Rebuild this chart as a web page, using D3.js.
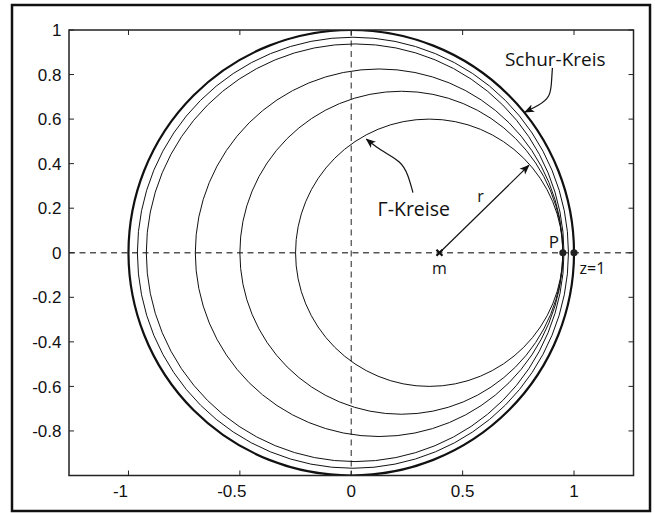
<!DOCTYPE html>
<html>
<head>
<meta charset="utf-8">
<script src="https://cdn.jsdelivr.net/npm/d3@7"></script>
<style>
  body { margin: 0; background: #fff; }
  svg { display: block; }
</style>
</head>
<body>
<svg width="655" height="513"></svg>
<script>
// Γ-circles: centre on the real axis and radius, innermost first
const circleCenters = [0.35, 0.225, 0.125, 0.0175, 0.0075]
const circleRadii = [0.60, 0.725, 0.825, 0.9375, 0.9675]
// Schur circle (unit circle)
const schurCenter = 0
const schurRadius = 1

const xTicks = [-1, -0.5, 0, 0.5, 1]
const xTickLabels = ['-1', '-0.5', '0', '0.5', '1']
const yTicks = [1, 0.8, 0.6, 0.4, 0.2, 0, -0.2, -0.4, -0.6, -0.8]
const yTickLabels = ['1', '0.8', '0.6', '0.4', '0.2', '0', '-0.2', '-0.4', '-0.6', '-0.8']

// marked points
const pointP = 0.95
const pointZ = 1
const pointM = 0.396

const svg = d3.select('svg')

const axLeft = 69, axRight = 633.5, axTop = 30, axBottom = 475.5

const x = d3.scaleLinear().domain([-1.267, 1.267]).range([axLeft, axRight])
const y = d3.scaleLinear().domain([-1, 1]).range([axBottom, axTop])

// outer frame
svg.append('rect')
  .attr('x', 12).attr('y', 5)
  .attr('width', 638).attr('height', 506)
  .attr('fill', 'none')
  .attr('stroke', '#111')
  .attr('stroke-width', 2.5)

const defs = svg.append('defs')
defs.append('marker')
  .attr('id', 'head')
  .attr('viewBox', '0 0 10 10')
  .attr('refX', 9).attr('refY', 5)
  .attr('markerWidth', 10).attr('markerHeight', 10)
  .attr('markerUnits', 'userSpaceOnUse')
  .attr('orient', 'auto')
  .append('path')
  .attr('d', 'M0,1 L10,5 L0,9 L2.5,5 Z')
  .attr('fill', '#111')

defs.append('clipPath').attr('id', 'clip')
  .append('rect')
  .attr('x', axLeft).attr('y', axTop)
  .attr('width', axRight - axLeft).attr('height', axBottom - axTop)

// dashed axes through origin
const plot = svg.append('g').attr('clip-path', 'url(#clip)')
plot.append('line')
  .attr('x1', axLeft).attr('x2', axRight)
  .attr('y1', y(0)).attr('y2', y(0))
  .attr('stroke', '#555').attr('stroke-width', 1.3)
  .attr('stroke-dasharray', '6,4.5')
plot.append('line')
  .attr('x1', x(0)).attr('x2', x(0))
  .attr('y1', axTop).attr('y2', axBottom)
  .attr('stroke', '#555').attr('stroke-width', 1.3)
  .attr('stroke-dasharray', '6,4.5')

// Γ-circles
plot.selectAll('ellipse.gamma')
  .data(circleCenters)
  .enter()
  .append('ellipse')
  .attr('class', 'gamma')
  .attr('cx', d => x(d))
  .attr('cy', y(0))
  .attr('rx', (d, i) => x(circleRadii[i]) - x(0))
  .attr('ry', (d, i) => y(0) - y(circleRadii[i]))
  .attr('fill', 'none')
  .attr('stroke', '#111')
  .attr('stroke-width', 1)

// Schur circle
plot.append('ellipse')
  .attr('cx', x(schurCenter)).attr('cy', y(0))
  .attr('rx', x(schurRadius) - x(0))
  .attr('ry', y(0) - y(schurRadius))
  .attr('fill', 'none')
  .attr('stroke', '#111')
  .attr('stroke-width', 2.2)

// axes box
svg.append('rect')
  .attr('x', axLeft).attr('y', axTop)
  .attr('width', axRight - axLeft).attr('height', axBottom - axTop)
  .attr('fill', 'none')
  .attr('stroke', '#222')
  .attr('stroke-width', 1.5)

// inward ticks on all four sides
const tickLen = 5
const tk = svg.append('g').attr('stroke', '#222').attr('stroke-width', 1)
xTicks.forEach(t => {
  tk.append('line').attr('x1', x(t)).attr('x2', x(t)).attr('y1', axBottom).attr('y2', axBottom - tickLen)
  tk.append('line').attr('x1', x(t)).attr('x2', x(t)).attr('y1', axTop).attr('y2', axTop + tickLen)
})
yTicks.forEach(t => {
  tk.append('line').attr('x1', axLeft).attr('x2', axLeft + tickLen).attr('y1', y(t)).attr('y2', y(t))
  tk.append('line').attr('x1', axRight).attr('x2', axRight - tickLen).attr('y1', y(t)).attr('y2', y(t))
})

const labelFont = '"Liberation Sans", Arial, sans-serif'
svg.append('g')
  .selectAll('text')
  .data(xTicks)
  .enter()
  .append('text')
  .attr('x', d => x(d) + (d < 0 ? -8 : 0))
  .attr('y', 497)
  .attr('text-anchor', 'middle')
  .attr('font-family', labelFont)
  .attr('font-size', 17)
  .attr('fill', '#111')
  .text((d, i) => xTickLabels[i])

svg.append('g')
  .selectAll('text')
  .data(yTicks)
  .enter()
  .append('text')
  .attr('x', 61.5)
  .attr('y', d => y(d))
  .attr('dy', '0.36em')
  .attr('text-anchor', 'end')
  .attr('font-family', labelFont)
  .attr('font-size', 17)
  .attr('fill', '#111')
  .text((d, i) => yTickLabels[i])

// annotations
const annFont = '"Open Sans", "Noto Sans", sans-serif'
const ann = svg.append('g').attr('font-family', annFont).attr('fill', '#111')

ann.append('text').attr('x', x(0.69)).attr('y', y(0.84))
  .attr('font-size', 19).text('Schur-Kreis')
ann.append('text').attr('x', x(0.118)).attr('y', y(0.166))
  .attr('font-size', 19.5).text('\u0393-Kreise')
ann.append('text').attr('x', x(0.58)).attr('y', y(0.227))
  .attr('text-anchor', 'middle').attr('font-size', 16).text('r')
ann.append('text').attr('x', x(0.91)).attr('y', y(0.02))
  .attr('text-anchor', 'middle').attr('font-size', 17).text('P')
ann.append('text').attr('x', x(pointM)).attr('y', y(-0.095))
  .attr('text-anchor', 'middle').attr('font-size', 16).text('m')
ann.append('text').attr('x', x(1.025)).attr('y', y(-0.095))
  .attr('font-size', 16).text('z=1')

// arrows
const curve = d3.line().curve(d3.curveBasis)
const arrow = svg.append('g').attr('fill', 'none').attr('stroke', '#111').attr('stroke-width', 1.2)

const schurArrow = [[0.903, 0.83], [0.899, 0.77], [0.895, 0.7], [0.84, 0.66], [0.78, 0.632]]
arrow.append('path')
  .attr('d', curve(schurArrow.map(p => [x(p[0]), y(p[1])])))
  .attr('marker-end', 'url(#head)')

const gammaArrow = [[0.277, 0.27], [0.255, 0.35], [0.225, 0.41], [0.13, 0.46], [0.068, 0.51]]
arrow.append('path')
  .attr('d', curve(gammaArrow.map(p => [x(p[0]), y(p[1])])))
  .attr('marker-end', 'url(#head)')

// radius arrow from m to circle
arrow.append('line')
  .attr('x1', x(pointM)).attr('y1', y(0))
  .attr('x2', x(0.797)).attr('y2', y(0.392))
  .attr('marker-end', 'url(#head)')

// m cross marker
const mx = x(pointM), my = y(0)
svg.append('path')
  .attr('d', `M${mx - 3},${my - 3}L${mx + 3},${my + 3}M${mx - 3},${my + 3}L${mx + 3},${my - 3}`)
  .attr('stroke', '#111').attr('stroke-width', 2.2)

// points P and z=1
svg.selectAll('circle.pt')
  .data([pointP, pointZ])
  .enter()
  .append('circle')
  .attr('class', 'pt')
  .attr('cx', d => x(d))
  .attr('cy', y(0))
  .attr('r', 3.6)
  .attr('fill', '#222')
</script>
</body>
</html>
